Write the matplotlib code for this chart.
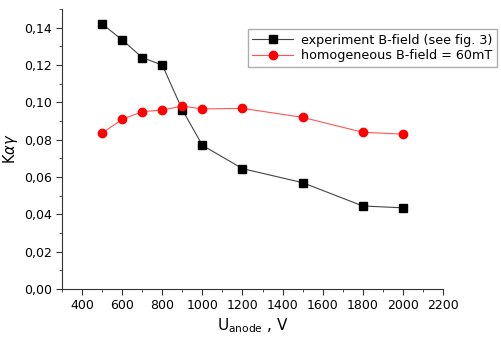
import matplotlib.pyplot as plt
from matplotlib.ticker import MultipleLocator, FuncFormatter

voltage = [500, 600, 700, 800, 900, 1000, 1200, 1500, 1800, 2000]
k_experiment = [0.142, 0.1335, 0.124, 0.120, 0.096, 0.077, 0.0645, 0.057, 0.0445, 0.0435]
k_homogeneous = [0.0835, 0.091, 0.095, 0.096, 0.098, 0.0965, 0.0968, 0.092, 0.084, 0.083]

fig = plt.figure(figsize=(5.01, 3.38), dpi=100)
ax = fig.add_axes([0.124, 0.145, 0.760, 0.828])

ax.plot(voltage, k_experiment, color='#444444', lw=0.8, marker='s', ms=5.5,
        mfc='black', mec='black', label='experiment B-field (see fig. 3)')
ax.plot(voltage, k_homogeneous, color='#ff5555', lw=0.8, marker='o', ms=6,
        mfc='red', mec='red', label='homogeneous B-field = 60mT')

ax.xaxis.set_minor_locator(MultipleLocator(100))
ax.yaxis.set_major_locator(MultipleLocator(0.02))
ax.yaxis.set_minor_locator(MultipleLocator(0.01))
ax.yaxis.set_major_formatter(FuncFormatter(lambda v, p: f'{v:.2f}'.replace('.', ',')))
ax.tick_params(which='major', direction='out', length=4, labelsize=9, color='#333333')
ax.tick_params(which='minor', direction='out', length=2.5, color='#333333')
ax.set_xticks(range(400, 2201, 200))
ax.set_xlim(300, 2200)
ax.set_ylim(0, 0.15)

for s in ['top', 'right']:
    ax.spines[s].set_visible(False)
for s in ['left', 'bottom']:
    ax.spines[s].set_color('#333333')

ax.set_ylabel(r'K$\alpha\gamma$', fontsize=10.5, labelpad=3)
ax.set_xlabel(r'U$_{\mathregular{anode}}$ , V', fontsize=11, labelpad=3)

leg = fig.legend(loc='upper left', bbox_to_anchor=(0.495, 0.913), fontsize=9.2,
                 frameon=True, fancybox=False, edgecolor='#999999',
                 handlelength=3.2, borderpad=0.35, labelspacing=0.2,
                 handletextpad=0.6, borderaxespad=0)
leg.get_frame().set_linewidth(1.0)

fig.savefig('out.png', dpi=100)
